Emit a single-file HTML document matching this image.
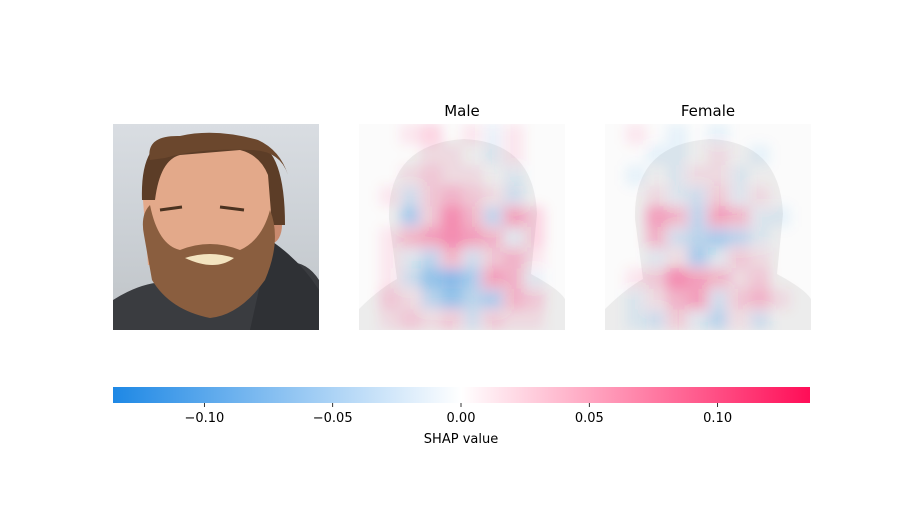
<!DOCTYPE html>
<html><head><meta charset="utf-8"><style>
body{margin:0;background:#fff;font-family:"Liberation Sans","DejaVu Sans",sans-serif}
svg text{font-family:"DejaVu Sans","Liberation Sans",sans-serif}
</style></head><body>
<svg id="chart" width="900" height="500" viewBox="0 0 900 500">
<defs>
<linearGradient id="bg" x1="0" y1="0" x2="0" y2="1"><stop offset="0" stop-color="#d9dde2"/><stop offset="0.6" stop-color="#c9ced3"/><stop offset="1" stop-color="#bfc3c6"/></linearGradient>
<linearGradient id="cbar" x1="0" y1="0" x2="1" y2="0"><stop offset="0" stop-color="#1e88e5"/><stop offset="0.5" stop-color="#ffffff"/><stop offset="1" stop-color="#ff0d57"/></linearGradient>
<filter id="blur" x="-10%" y="-10%" width="120%" height="120%"><feGaussianBlur stdDeviation="6"/></filter>
<clipPath id="cm"><rect x="359" y="124" width="206" height="206"/></clipPath>
<clipPath id="cf"><rect x="605" y="124" width="206" height="206"/></clipPath>
<clipPath id="cp"><rect x="113" y="124" width="206" height="206"/></clipPath>
<g id="sil">
<path d="M30,95 Q28,20 105,15 Q175,18 178,90 L172,150 Q200,165 206,175 L206,206 L0,206 L0,185 Q20,165 38,155 Z" fill="#ececec"/>
</g>
</defs>
<g clip-path="url(#cp)">
<rect x="113" y="124" width="206" height="206" fill="url(#bg)"/>
<path d="M113,300 Q160,270 200,290 L260,270 Q300,250 319,280 L319,330 L113,330 Z" fill="#3a3c40"/>
<path d="M270,240 Q300,260 319,290 L319,330 L250,330 Z" fill="#2f3135"/>
<ellipse cx="272" cy="225" rx="10" ry="18" fill="#c98a6e"/>
<path d="M143,200 Q140,150 170,145 L255,145 Q272,160 272,200 L268,265 L148,265 Z" fill="#e3a98a"/>
<path d="M142,200 Q140,140 175,138 Q215,128 255,142 Q285,150 285,225 L272,225 L268,175 Q260,155 240,150 L180,155 Q160,160 155,200 Z" fill="#5c3d27"/>
<path d="M150,160 Q145,135 180,136 Q215,128 258,140 Q280,150 288,175 Q280,150 250,150 Q200,148 165,158 Z" fill="#6b472d"/>
<path d="M144,235 Q140,215 150,205 Q158,245 180,250 Q210,238 240,250 Q262,240 270,210 Q282,240 265,280 Q240,315 210,318 Q170,310 152,280 Z" fill="#8a5e3f"/>
<path d="M185,258 Q210,250 234,258 Q215,272 185,258 Z" fill="#f3e4c0"/>
<path d="M160,210 l22,-3 M220,207 l24,3" stroke="#4a3220" stroke-width="3"/>
</g>
<g clip-path="url(#cm)">
<rect x="359" y="124" width="206" height="206" fill="#fbfbfb"/>
<use href="#sil" x="359" y="124"/>
<g id="male-cells" filter="url(#blur)"></g>
</g>
<g clip-path="url(#cf)">
<rect x="605" y="124" width="206" height="206" fill="#fbfbfb"/>
<use href="#sil" x="605" y="124"/>
<g id="female-cells" filter="url(#blur)"></g>
</g>
<text x="462" y="116" text-anchor="middle" font-size="15" fill="#000">Male</text>
<text x="708" y="116" text-anchor="middle" font-size="15" fill="#000">Female</text>
<g>
<rect x="113" y="387" width="697" height="16" fill="url(#cbar)"/>
<g id="cticks"></g>
<text x="461" y="443" text-anchor="middle" font-size="13" fill="#000">SHAP value</text>
</g>
</svg>
<script>
const tickValues=[-0.10,-0.05,0.00,0.05,0.10];
const tickLabels=["\u22120.10","\u22120.05","0.00","0.05","0.10"];
const maleValues=[
[0,0,.01,.02,0,.01,-.01,.01,0,0],
[0,0,0,.01,.01,0,-.01,.01,0,0],
[0,0,.01,.02,.01,.01,0,-.01,0,0],
[0,.01,-.02,.02,.03,.02,.01,-.02,0,0],
[0,0,-.04,.02,.05,.03,-.03,.04,.02,0],
[0,.01,.03,.04,.05,.04,.03,-.01,.02,0],
[0,.01,-.01,-.03,.03,-.02,.02,.03,.01,0],
[0,.01,-.02,-.05,-.06,-.04,.04,.03,-.01,0],
[0,.02,.01,-.03,-.05,-.03,-.04,.03,.02,0],
[0,.01,.02,.01,.02,-.02,.02,.01,.01,0]];
const femaleValues=[
[0,.01,0,-.01,0,-.01,0,0,0,0],
[0,0,-.01,-.01,0,.01,0,-.01,0,0],
[0,-.01,0,-.01,.01,.01,-.01,0,0,0],
[0,0,.01,-.01,-.02,.02,-.01,.01,0,0],
[0,0,.04,.03,-.03,.04,.03,-.01,-.01,0],
[0,0,.03,-.02,-.03,-.04,-.03,-.01,0,0],
[0,0,-.01,.01,-.04,-.01,.02,.01,0,0],
[0,.01,.02,.05,.04,.03,.01,.02,0,0],
[0,-.01,.01,.03,.04,-.02,.02,.03,.01,0],
[0,-.01,-.02,.02,-.01,-.03,.01,-.02,0,0]];
const vmax=0.136;
const ns="http://www.w3.org/2000/svg";
function xScale(v){return 461+v*(810-461)/vmax;}
function color(v){return v>=0?"#ff0d57":"#1e88e5";}
function drawCells(gid,vals,x0){
  const g=document.getElementById(gid);
  const n=vals.length,cs=206/n;
  vals.forEach((row,r)=>row.forEach((v,c)=>{
    const el=document.createElementNS(ns,"rect");
    
    
    el.setAttribute("x",x0+c*cs);el.setAttribute("y",124+r*cs);
    el.setAttribute("width",cs);el.setAttribute("height",cs);
    el.setAttribute("fill",color(v));
    el.setAttribute("opacity",Math.min(1,Math.abs(v)/vmax*1.1));
    g.appendChild(el);
  }));
}
drawCells("male-cells",maleValues,359);
drawCells("female-cells",femaleValues,605);
const tg=document.getElementById("cticks");
tickValues.forEach((v,i)=>{
  const x=xScale(v);
  const l=document.createElementNS(ns,"line");
  
  
  l.setAttribute("x1",x);l.setAttribute("x2",x);l.setAttribute("y1",403);l.setAttribute("y2",407);
  l.setAttribute("stroke","#000");l.setAttribute("stroke-width","0.8");
  tg.appendChild(l);
  const t=document.createElementNS(ns,"text");
  
  
  t.setAttribute("x",x);t.setAttribute("y",422);t.setAttribute("text-anchor","middle");
  t.setAttribute("font-size","13");t.textContent=tickLabels[i];
  tg.appendChild(t);
});
</script>
</body></html>
